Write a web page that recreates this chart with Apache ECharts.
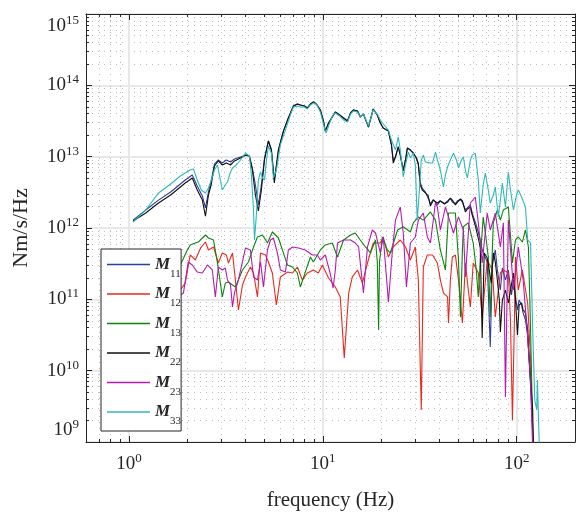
<!DOCTYPE html>
<html>
<head>
<meta charset="utf-8">
<script src="https://cdn.jsdelivr.net/npm/echarts@6/dist/echarts.min.js"></script>
<style>
  html, body { margin: 0; padding: 0; background: #fff; }
  #chart { width: 576px; height: 514px; }
</style>
</head>
<body>
<div id="chart"></div>
<script>
// spectral density curves, log-log
var seriesNames = ['M11', 'M12', 'M13', 'M22', 'M23', 'M33'];
var seriesColors = ['#2f3f94', '#e8291f', '#0b850b', '#111111', '#b41cb0', '#2fb8bb'];

var xMajor = [1, 10, 100];
var xMinor = [0.6, 0.7, 0.8, 0.9, 2, 3, 4, 5, 6, 7, 8, 9, 20, 30, 40, 50, 60, 70, 80, 90, 200];
var yDecades = [1e9, 1e10, 1e11, 1e12, 1e13, 1e14, 1e15];
var minorSteps = [2, 3, 4, 5, 6, 7, 8, 9];

// [frequency Hz, value]
var m22 = [
  [1.05, 1.25e12], [1.22, 1.62e12], [1.42, 2.24e12], [1.64, 2.90e12], [1.95, 4.28e12], [2.12, 5.02e12],
  [2.25, 3.41e12], [2.39, 2.46e12], [2.48, 1.47e12], [2.57, 2.90e12], [2.66, 4.14e12], [2.76, 7.40e12],
  [2.89, 8.70e12], [3.03, 7.64e12], [3.18, 8.15e12], [3.34, 7.64e12], [3.50, 8.70e12], [3.76, 9.58e12],
  [3.99, 1.05e13], [4.18, 1.02e13], [4.33, 6.50e12], [4.49, 2.90e12], [4.65, 1.73e12], [4.82, 3.41e12],
  [5.00, 8.98e12], [5.24, 1.66e13], [5.43, 1.24e13], [5.62, 4.28e12], [5.90, 1.24e13],
  [6.26, 2.28e13], [6.64, 3.48e13], [7.05, 5.14e13], [7.39, 5.48e13], [7.66, 5.31e13], [8.03, 5.14e13],
  [8.32, 4.81e13], [8.63, 5.48e13], [8.94, 5.84e13], [9.26, 5.48e13], [9.71, 4.52e13], [10.1, 3.06e13],
  [10.3, 2.28e13], [10.7, 2.96e13], [11.1, 3.48e13], [11.6, 4.23e13], [12.2, 3.84e13], [12.8, 3.48e13],
  [13.4, 3.16e13], [13.9, 4.10e13], [14.4, 4.52e13], [15.1, 4.37e13], [15.6, 3.60e13], [16.2, 3.96e13],
  [17.2, 2.60e13], [18.2, 4.66e13], [19.1, 3.84e13], [19.8, 2.96e13], [20.5, 2.52e13], [21.8, 2.28e13],
  [22.6, 1.46e13], [23.1, 8.15e12], [23.7, 9.9e12], [24.5, 1.37e13], [25.1, 1.05e13], [26.0, 6.30e12],
  [26.7, 8.98e12], [27.3, 1.32e13], [28.3, 1.24e13], [29.3, 1.12e13], [30.4, 9.58e12], [31.1, 7.89e12],
  [31.8, 4.01e12], [32.6, 3.41e12], [33.8, 3.10e12], [35.0, 2.81e12], [35.9, 2.03e12], [37.2, 2.46e12],
  [39.0, 2.24e12], [40.4, 2.39e12], [42.4, 2.17e12], [44.0, 2.31e12], [45.5, 2.63e12], [46.6, 2.46e12],
  [48.3, 2.10e12], [49.5, 2.31e12], [51.3, 2.55e12], [52.5, 2.39e12], [54.4, 1.68e12], [55.7, 1.85e12],
  [57.7, 1.97e12], [59.0, 1.52e12], [61.2, 1.07e12], [63.4, 7.24e11], [64.9, 5.25e11], [66.4, 2.87e10],
  [68.0, 4.47e11], [70.5, 3.80e11], [72.2, 2.58e11], [74.0, 1.69e11], [75.8, 4.47e11], [77.6, 3.34e11],
  [79.5, 1.87e11], [81.4, 9.79e10], [82.4, 3.48e10], [84.4, 9.79e10], [87.5, 1.35e11], [90.6, 8.89e10],
  [94.0, 1.59e11], [96.3, 2.34e11], [98.6, 9.79e10], [101, 3.16e10], [103, 8.33e10], [106, 8.89e10],
  [108, 7.09e10], [111, 6.43e10], [114, 3.72e10], [115, 2.14e10], [118, 7.40e9], [121, 2.81e9], [122, 8e8]
];

var m11 = [
  [1.05, 1.29e12], [1.22, 1.79e12], [1.42, 2.46e12], [1.64, 3.20e12], [1.95, 4.71e12], [2.12, 5.54e12],
  [2.25, 3.88e12], [2.39, 2.81e12], [2.48, 1.91e12], [2.57, 3.20e12], [2.66, 4.71e12], [2.76, 7.89e12],
  [2.89, 8.98e12], [3.03, 8.15e12], [3.18, 8.98e12], [3.34, 8.42e12], [3.50, 9.27e12], [3.76, 9.9e12],
  [3.99, 1.05e13], [4.18, 1.02e13], [4.33, 6.94e12], [4.49, 4.01e12], [4.65, 2.10e12], [4.82, 4.01e12],
  [5.00, 9.58e12], [5.24, 1.66e13], [5.43, 1.24e13], [5.62, 4.71e12], [5.90, 1.24e13],
  [6.26, 2.28e13], [6.64, 3.48e13], [7.05, 5.14e13], [7.39, 5.48e13], [7.66, 5.31e13], [8.03, 5.14e13],
  [8.32, 4.81e13], [8.63, 5.48e13], [8.94, 5.84e13], [9.26, 5.48e13], [9.71, 4.52e13], [10.1, 3.06e13],
  [10.3, 2.28e13], [10.7, 2.96e13], [11.1, 3.48e13], [11.6, 4.23e13], [12.2, 3.84e13], [12.8, 3.48e13],
  [13.4, 3.16e13], [13.9, 4.10e13], [14.4, 4.52e13], [15.1, 4.37e13], [15.6, 3.60e13], [16.2, 3.96e13],
  [17.2, 2.60e13], [18.2, 4.66e13], [19.1, 3.84e13], [19.8, 2.96e13], [20.5, 2.52e13], [21.8, 2.28e13],
  [22.6, 1.46e13], [23.1, 8.9e12], [23.7, 1.0e13], [24.5, 1.37e13], [25.1, 1.05e13], [26.0, 6.6e12],
  [26.7, 8.98e12], [27.3, 1.32e13], [28.3, 1.24e13], [29.3, 1.12e13], [30.4, 9.58e12], [31.1, 7.89e12],
  [31.8, 4.4e12], [32.6, 3.6e12], [33.8, 3.2e12], [35.0, 2.6e12], [35.9, 2.2e12], [37.2, 2.5e12],
  [39.0, 2.1e12], [40.4, 2.4e12], [42.4, 2.2e12], [44.0, 2.4e12], [45.5, 2.6e12], [46.6, 2.3e12],
  [48.3, 2.2e12], [49.5, 2.4e12], [51.3, 2.5e12], [52.5, 2.3e12], [54.4, 1.8e12], [55.7, 1.9e12],
  [57.7, 2.10e12], [59.0, 1.62e12], [61.2, 1.21e12], [63.4, 8.79e11], [64.9, 6.79e11], [66.4, 4.92e11],
  [68.0, 4.19e11], [70.5, 3.34e11], [73.1, 2.14e10], [74.9, 3.03e11], [77.6, 4.92e11], [79.5, 2.58e11],
  [82.4, 1.35e11], [84.4, 2.75e11], [87.5, 1.87e11], [90.6, 2.58e11], [94.0, 1.15e11], [96.3, 1.87e11],
  [98.6, 1.08e11], [101, 7.09e10], [103, 9.79e10], [106, 8.33e10], [108, 6.43e10], [111, 5.14e10],
  [114, 3.16e10], [116, 1.41e10], [119, 3.88e9], [122, 8e8]
];

var m33 = [
  [1.05, 1.21e12], [1.22, 1.79e12], [1.42, 3.10e12], [1.64, 4.14e12], [1.84, 5.36e12], [1.95, 5.90e12],
  [2.07, 6.50e12], [2.15, 6.72e12], [2.25, 4.71e12], [2.36, 3.41e12], [2.48, 3.10e12], [2.57, 3.64e12],
  [2.66, 4.71e12], [2.76, 6.50e12], [2.86, 7.64e12], [2.96, 4.71e12], [3.03, 3.41e12], [3.14, 4.01e12],
  [3.22, 4.42e12], [3.34, 6.10e12], [3.42, 6.94e12], [3.58, 7.64e12], [3.76, 8.98e12], [3.99, 1.12e13],
  [4.18, 1.02e13], [4.28, 5.54e12], [4.39, 1.79e12], [4.44, 6.79e11], [4.54, 1.52e12], [4.65, 4.71e12],
  [4.77, 6.10e12], [4.88, 5.02e12], [5.00, 4.71e12], [5.12, 8.98e12], [5.24, 1.41e13], [5.43, 1.12e13],
  [5.56, 5.02e12], [5.76, 6.50e12], [6.04, 1.46e13], [6.41, 2.36e13], [6.80, 3.84e13], [7.05, 4.97e13],
  [7.39, 5.14e13], [7.66, 4.97e13], [8.03, 4.97e13], [8.32, 4.66e13], [8.63, 5.31e13], [8.94, 5.66e13],
  [9.26, 5.48e13], [9.71, 4.23e13], [10.1, 2.78e13], [10.4, 2.14e13], [10.8, 2.87e13], [11.2, 3.72e13],
  [11.6, 4.10e13], [12.2, 3.72e13], [12.8, 3.27e13], [13.4, 3.06e13], [13.9, 3.96e13], [14.4, 4.37e13],
  [15.1, 4.23e13], [15.6, 3.60e13], [16.2, 3.96e13], [17.2, 2.69e13], [18.2, 4.52e13], [19.1, 3.96e13],
  [19.8, 3.27e13], [20.5, 2.87e13], [21.8, 2.36e13], [22.6, 1.71e13], [23.1, 1.46e13], [23.7, 1.24e13],
  [24.5, 1.89e13], [25.1, 1.24e13], [26.0, 5.19e12], [26.7, 7.64e12], [27.6, 1.16e13], [28.3, 9.58e12],
  [29.3, 1.12e13], [30.0, 7.64e12], [30.7, 1.29e12], [31.5, 3.41e12], [32.2, 8.98e12], [33.0, 1.05e13],
  [33.8, 8.42e12], [34.6, 8.98e12], [35.9, 8.15e12], [36.8, 8.15e12], [38.1, 1.16e13], [39.0, 8.98e12],
  [40.4, 6.50e12], [41.9, 3.76e12], [42.9, 5.54e12], [44.0, 7.16e12], [45.5, 8.98e12], [47.2, 1.12e13],
  [48.9, 8.98e12], [50.1, 6.94e12], [51.9, 8.98e12], [53.1, 9.9e12], [54.4, 6.50e12], [55.7, 5.02e12],
  [57.7, 8.98e12], [59.0, 1.05e13], [61.2, 1.12e13], [62.6, 1.05e13], [63.4, 4.71e12], [64.9, 1.62e12],
  [67.2, 4.01e12], [68.9, 5.90e12], [71.4, 3.41e12], [73.1, 2.24e12], [75.8, 2.90e12], [77.6, 3.76e12],
  [80.4, 1.43e12], [82.4, 2.46e12], [84.4, 4.28e12], [87.5, 1.97e12], [90.6, 6.10e12], [92.9, 3.41e12],
  [96.3, 1.79e12], [99.8, 2.90e12], [102, 3.41e12], [106, 2.72e12], [111, 1.97e12], [114, 6.79e11],
  [118, 6.16e11], [121, 3.72e10], [124, 3.88e9], [127, 2.81e9], [128, 7.40e9], [131, 8e8]
];

var m12 = [
  [1.05, 1.35e11], [1.29, 1.87e11], [1.54, 1.59e11], [1.84, 1.35e11], [1.95, 1.69e11], [2.07, 4.19e11],
  [2.20, 3.56e11], [2.34, 5.25e11], [2.48, 6.36e11], [2.57, 4.92e11], [2.73, 5.42e11], [2.89, 3.23e11],
  [3.03, 4.47e11], [3.18, 4.19e11], [3.26, 3.23e11], [3.42, 4.47e11], [3.54, 1.87e11], [3.67, 7.09e10],
  [3.85, 1.59e11], [3.99, 2.06e11], [4.23, 2.84e11], [4.39, 2.34e11], [4.60, 1.08e11], [4.77, 4.47e11],
  [5.06, 4.19e11], [5.24, 3.34e11], [5.49, 2.34e11], [5.76, 8.33e10], [6.04, 2.06e11], [6.57, 2.41e11],
  [6.97, 2.34e11], [7.39, 2.84e11], [7.84, 1.87e11], [8.32, 2.34e11], [8.94, 2.58e11], [9.48, 2.34e11],
  [9.95, 3.03e11], [10.7, 1.99e11], [11.6, 1.49e11], [12.3, 1.08e11], [12.9, 1.51e10], [13.6, 1.23e11],
  [14.2, 2.06e11], [15.1, 2.58e11], [16.0, 1.69e11], [17.0, 3.23e11], [18.2, 6.16e11], [19.8, 6.16e11],
  [20.5, 7.48e11], [21.8, 3.92e11], [23.1, 5.42e11], [25.1, 6.79e11], [26.7, 5.42e11], [28.3, 3.56e11],
  [30.0, 5.42e11], [31.1, 1.87e11], [32.2, 2.81e9], [33.0, 2.84e11], [34.6, 4.19e11], [36.8, 4.19e11],
  [39.0, 3.23e11], [40.4, 1.87e11], [41.9, 1.23e11], [44.0, 1.08e11], [44.5, 4.66e10], [45.5, 1.87e11],
  [46.6, 3.92e11], [48.3, 4.19e11], [50.1, 1.87e11], [52.5, 4.66e10], [54.4, 3.23e11], [56.3, 1.35e11],
  [57.7, 7.81e10], [59.7, 3.23e11], [63.4, 2.34e11], [66.4, 5.66e10], [70.5, 3.56e11], [74.9, 2.58e11],
  [77.6, 5.66e10], [82.4, 2.34e11], [85.4, 2.58e11], [90.6, 2.34e11], [92.9, 5.14e10], [95.1, 2.03e9],
  [97.4, 5.14e10], [98.6, 3.92e11], [102, 1.35e11], [107, 2.58e11], [114, 8.89e10], [118, 1.41e10],
  [121, 1.47e9], [122, 8e8]
];

var m13 = [
  [1.05, 1.87e11], [1.29, 1.59e11], [1.54, 2.19e11], [1.84, 3.03e11], [2.00, 4.92e11], [2.07, 5.78e11],
  [2.20, 6.16e11], [2.28, 6.36e11], [2.39, 7.24e11], [2.48, 7.98e11], [2.57, 7.24e11], [2.73, 6.79e11],
  [2.86, 3.23e11], [2.96, 1.69e11], [3.03, 1.08e11], [3.14, 1.69e11], [3.26, 1.75e11], [3.42, 1.59e11],
  [3.54, 1.49e11], [3.85, 2.58e11], [4.13, 3.34e11], [4.39, 5.42e11], [4.60, 7.48e11], [4.88, 7.98e11],
  [5.18, 6.16e11], [5.49, 8.79e11], [5.90, 7.24e11], [6.26, 4.47e11], [6.57, 3.03e11], [6.97, 2.84e11],
  [7.39, 2.34e11], [7.66, 1.49e11], [8.12, 2.41e11], [8.63, 3.92e11], [8.94, 3.34e11], [9.71, 4.92e11],
  [10.3, 5.78e11], [11.2, 6.16e11], [11.9, 3.92e11], [12.8, 6.79e11], [13.9, 7.98e11], [14.7, 8.51e11],
  [15.6, 6.79e11], [16.6, 5.42e11], [17.6, 4.47e11], [18.7, 6.79e11], [19.1, 3.34e11], [19.4, 3.72e10],
  [19.6, 3.34e11], [20.3, 7.48e11], [21.5, 4.92e11], [22.3, 4.47e11], [24.3, 9.38e11], [26.0, 1.04e12],
  [28.3, 8.79e11], [29.3, 1.18e12], [31.1, 1.43e12], [33.0, 1.29e12], [35.9, 1.68e12], [38.1, 1.29e12],
  [40.4, 4.92e11], [42.9, 2.58e11], [44.5, 1.62e12], [48.3, 1.62e12], [50.1, 3.56e11], [51.3, 5.66e10],
  [52.5, 4.92e11], [53.1, 1.04e12], [56.3, 1.18e12], [59.7, 6.16e11], [61.9, 2.58e11], [63.4, 1.08e11],
  [64.9, 3.56e11], [67.2, 1.43e12], [69.7, 6.79e11], [71.4, 3.92e11], [73.1, 5.66e10], [74.9, 4.92e11],
  [75.8, 1.18e12], [79.5, 1.79e12], [82.4, 1.29e12], [85.4, 1.79e12], [90.6, 1.97e12], [92.9, 7.98e11],
  [95.1, 3.23e11], [98.6, 6.79e11], [102, 7.48e11], [107, 6.36e11], [111, 9.38e11], [115, 5.42e11],
  [118, 3.72e10], [121, 1.47e9], [122, 8e8]
];

var m23 = [
  [1.05, 9.79e10], [1.29, 1.15e11], [1.54, 9.79e10], [1.84, 1.15e11], [1.91, 1.23e11], [2.02, 3.34e11],
  [2.12, 3.03e11], [2.25, 2.41e11], [2.39, 2.34e11], [2.54, 3.03e11], [2.69, 2.58e11], [2.79, 1.08e11],
  [2.89, 2.84e11], [3.03, 2.58e11], [3.14, 2.75e11], [3.22, 1.87e11], [3.34, 1.59e11], [3.42, 7.81e10],
  [3.50, 1.23e11], [3.67, 1.87e11], [3.99, 5.25e11], [4.23, 4.92e11], [4.39, 2.06e11], [4.60, 1.87e11],
  [4.77, 3.34e11], [4.94, 1.49e11], [5.18, 4.92e11], [5.37, 6.79e11], [5.56, 7.24e11], [5.83, 4.47e11],
  [6.04, 2.58e11], [6.41, 2.41e11], [6.64, 4.92e11], [6.97, 5.42e11], [7.48, 5.25e11], [8.12, 4.92e11],
  [8.83, 4.19e11], [9.37, 4.19e11], [9.71, 3.56e11], [10.3, 4.19e11], [10.9, 2.34e11], [11.3, 1.44e11],
  [11.6, 2.58e11], [11.9, 6.16e11], [12.8, 6.79e11], [13.9, 6.79e11], [14.7, 6.16e11], [15.3, 5.42e11],
  [16.2, 1.23e11], [17.0, 5.42e11], [18.0, 9.38e11], [18.7, 8.51e11], [19.8, 4.47e11], [20.5, 7.48e11],
  [21.8, 9.18e10], [22.8, 4.47e11], [23.7, 1.29e12], [25.1, 1.97e12], [26.0, 8.51e11], [27.0, 1.49e11],
  [28.3, 6.16e11], [30.0, 7.48e11], [31.1, 1.29e12], [33.0, 1.62e12], [34.6, 7.48e11], [35.9, 6.16e11],
  [38.1, 2.24e12], [39.0, 1.97e12], [40.4, 9.38e11], [42.9, 1.97e12], [44.5, 1.43e12], [47.2, 8.51e11],
  [50.1, 1.43e12], [53.1, 9.38e11], [54.4, 2.06e11], [57.7, 2.24e12], [61.2, 2.72e12], [63.4, 1.18e12],
  [66.4, 3.23e11], [70.5, 1.62e12], [73.1, 9.38e11], [77.6, 1.62e12], [82.4, 5.42e11], [85.4, 1.18e12],
  [87.5, 4.28e9], [90.6, 1.29e12], [96.3, 1.35e11], [102, 5.42e11], [108, 1.87e11], [114, 2.97e10],
  [118, 6.72e9], [121, 8e8]
];

var seriesData = [m11, m12, m13, m22, m23, m33];

(function() {
  var font = 'Liberation Serif';
  var ink = '#262626';
  var majorGrid = '#e8e8e8';
  var minorGrid = '#bdbdbd';
  // log extents round a hair low, pad the ends so the end ticks survive
  var xMin = 0.6, xMax = 200.0001;
  var yMin = 0.99999e9, yMax = 1.00001e15;

  var yMajor = yDecades;
  var yMinor = [];
  yDecades.slice(0, -1).forEach(function(d) {
    minorSteps.forEach(function(s) { yMinor.push(s * d); });
  });

  var powRich = {
    b: { fontFamily: font, fontSize: 19, color: ink, lineHeight: 24 },
    s: { fontFamily: font, fontSize: 13, color: ink, lineHeight: 13, verticalAlign: 'top' }
  };
  function powLabel(v) {
    return '{b|10}{s|' + Math.round(Math.log10(v)) + '}';
  }

  function baseAxis(pos, min, max) {
    return {
      type: 'log', logBase: 10, position: pos, min: min, max: max,
      axisLine: { show: false, lineStyle: { color: ink, width: 1 } },
      axisTick: { show: false },
      axisLabel: { show: false },
      splitLine: { show: false },
      minorTick: { show: false },
      minorSplitLine: { show: false }
    };
  }
  function ticks(values, len) {
    return { show: true, inside: true, length: len, customValues: values, lineStyle: { color: ink } };
  }

  // bottom: decade labels, ticks, solid grid
  var xMain = baseAxis('bottom', xMin, xMax);
  xMain.axisLine.show = true;
  xMain.axisTick = ticks(xMajor, 6);
  xMain.axisLabel = { show: true, customValues: xMajor, formatter: powLabel, rich: powRich, margin: 10 };
  xMain.splitLine = { show: true, lineStyle: { color: majorGrid, width: 2 } };
  xMain.name = 'frequency (Hz)';
  xMain.nameLocation = 'middle';
  xMain.nameGap = 48;
  xMain.nameTextStyle = { fontFamily: font, fontSize: 21, color: ink };

  // bottom: minor ticks + dotted grid
  var xMinorAxis = baseAxis('bottom', xMin, xMax);
  xMinorAxis.axisTick = ticks(xMinor, 3);
  xMinorAxis.splitLine = { show: true, lineStyle: { color: minorGrid, width: 1, type: [1, 5] } };

  // top box edge
  var xTop = baseAxis('top', xMin, xMax);
  xTop.axisLine.show = true;
  xTop.axisTick = ticks(xMajor, 6);
  var xTopMinor = baseAxis('top', xMin, xMax);
  xTopMinor.axisTick = ticks(xMinor, 3);

  var yMain = baseAxis('left', yMin, yMax);
  yMain.axisLine.show = true;
  yMain.axisTick = ticks(yMajor, 6);
  yMain.axisLabel = {
    show: true, customValues: yMajor, formatter: powLabel, rich: powRich, margin: 7,
    verticalAlignMinLabel: 'bottom', verticalAlignMaxLabel: 'top'
  };
  yMain.splitLine = { show: true, lineStyle: { color: majorGrid, width: 2 } };
  yMain.name = 'Nm/s/Hz';
  yMain.nameLocation = 'middle';
  yMain.nameGap = 54;
  yMain.nameTextStyle = { fontFamily: font, fontSize: 22, color: ink };

  var yMinorAxis = baseAxis('left', yMin, yMax);
  yMinorAxis.axisTick = ticks(yMinor, 3);
  yMinorAxis.splitLine = { show: true, lineStyle: { color: minorGrid, width: 1, type: [1, 5] } };

  var yRight = baseAxis('right', yMin, yMax);
  yRight.axisLine.show = true;
  yRight.axisTick = ticks(yMajor, 6);
  var yRightMinor = baseAxis('right', yMin, yMax);
  yRightMinor.axisTick = ticks(yMinor, 3);

  var chart = echarts.init(document.getElementById('chart'), null, { renderer: 'canvas' });
  chart.setOption({
    animation: false,
    backgroundColor: '#fff',
    grid: { left: 86, right: 1, top: 14, bottom: 72, outerBoundsMode: 'none', containLabel: false },
    xAxis: [xMain, xMinorAxis, xTop, xTopMinor],
    yAxis: [yMain, yMinorAxis, yRight, yRightMinor],
    legend: {
      orient: 'vertical',
      left: 101, top: 249,
      backgroundColor: '#fff',
      borderColor: ink, borderWidth: 1, borderRadius: 0,
      padding: [7, 0, 4, 6],
      itemWidth: 43, itemHeight: 1.5, itemGap: 6,
      icon: 'rect',
      selectedMode: false,
      data: seriesNames,
      formatter: function(name) { return '{m|M}{s|' + name.slice(1) + '}'; },
      textStyle: {
        rich: {
          m: { fontFamily: font, fontSize: 17, fontStyle: 'italic', fontWeight: 'bold', color: ink, lineHeight: 30 },
          s: { fontFamily: font, fontSize: 11, color: ink, lineHeight: 11, verticalAlign: 'bottom' }
        }
      }
    },
    series: seriesNames.map(function(n, i) {
      return {
        name: n,
        type: 'line',
        xAxisIndex: 0, yAxisIndex: 0,
        data: seriesData[i],
        color: seriesColors[i],
        showSymbol: false,
        symbol: 'none',
        clip: true,
        lineStyle: { width: 1.1, color: seriesColors[i] },
        emphasis: { disabled: true }
      };
    })
  });
})();
</script>
</body>
</html>
